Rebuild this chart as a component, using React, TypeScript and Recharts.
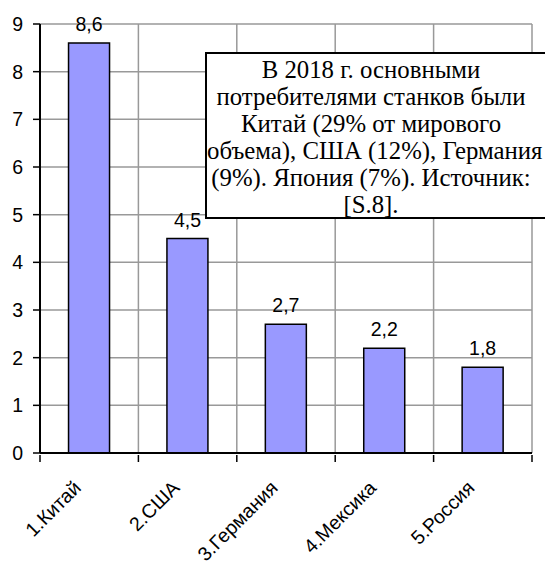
import React from 'react';
import { BarChart, Bar, XAxis, YAxis, CartesianGrid, LabelList } from 'recharts';

const categories = ['1.Китай', '2.США', '3.Германия', '4.Мексика', '5.Россия'];
const values = [8.6, 4.5, 2.7, 2.2, 1.8];
const yTicks = [0, 1, 2, 3, 4, 5, 6, 7, 8, 9];
const noteLines = [
  'В 2018 г. основными',
  'потребителями станков были',
  'Китай (29% от мирового',
  'объема), США (12%), Германия',
  '(9%). Япония (7%). Источник:',
  '[S.8].',
];

const W = 545;
const H = 565;
const margin = { top: 24, right: 13, left: 0, bottom: 0 };
const Y_W = 40;
const PLOT_W = W - Y_W - margin.right;
const FONT = 'Arial, "Liberation Sans", sans-serif';

const data = categories.map((name, i) => ({ name, value: values[i] }));

function XTick(props: any) {
  const { x, y, payload, index } = props;
  const step = PLOT_W / categories.length;
  const ax = x - 7;
  const ay = y + 34;
  return (
    <g>
      <line x1={x - step / 2} x2={x - step / 2} y1={y} y2={y + 7} stroke="#000" strokeWidth={1.5} />
      {index === categories.length - 1 && (
        <line x1={x + step / 2} x2={x + step / 2} y1={y} y2={y + 7} stroke="#000" strokeWidth={1.5} />
      )}
      <text
        x={ax}
        y={ay}
        textAnchor="end"
        transform={`rotate(-45 ${ax} ${ay})`}
        fontFamily={FONT}
        fontSize={19.5}
        fill="#000"
      >
        {payload.value}
      </text>
    </g>
  );
}

export default function App() {
  return (
    <div style={{ position: 'absolute', left: 0, top: 0, width: W, height: H, overflow: 'hidden', background: '#fff' }}>
      <BarChart width={W} height={H} data={data} margin={margin} barCategoryGap="29%">
        <CartesianGrid
          stroke="#999"
          strokeWidth={1.5}
          verticalCoordinatesGenerator={({ offset }: any) =>
            [1, 2, 3, 4, 5].map((i) => offset.left + (i * offset.width) / 5)
          }
        />
        <XAxis
          dataKey="name"
          interval={0}
          height={H - 453 - margin.bottom}
          tickSize={0}
          tickLine={false}
          axisLine={{ stroke: '#000', strokeWidth: 2 }}
          tick={<XTick />}
        />
        <YAxis
          width={Y_W}
          domain={[0, 9]}
          ticks={yTicks}
          interval={0}
          tickSize={7}
          tickMargin={10}
          tickLine={{ stroke: '#000', strokeWidth: 1.5 }}
          axisLine={{ stroke: '#000', strokeWidth: 2 }}
          tick={{ fontFamily: FONT, fontSize: 19.5, fill: '#000' }}
        />
        <Bar dataKey="value" fill="#9999ff" stroke="#000" strokeWidth={1.5} isAnimationActive={false}>
          <LabelList
            dataKey="value"
            position="top"
            offset={12}
            formatter={(v: any) => String(v).replace('.', ',')}
            style={{ fontFamily: FONT, fontSize: 19.5, fill: '#000' }}
          />
        </Bar>
      </BarChart>
      <div
        style={{
          position: 'absolute',
          left: 205,
          top: 52,
          width: 345,
          height: 167,
          boxSizing: 'border-box',
          border: '2px solid #000',
          background: '#fff',
          paddingRight: 13,
          paddingTop: 2,
          fontFamily: '"Times New Roman", "Liberation Serif", serif',
          fontSize: 24.8,
          lineHeight: '27px',
          textAlign: 'center',
          color: '#000',
        }}
      >
        {noteLines.map((l) => (
          <div key={l} style={{ whiteSpace: 'nowrap' }}>{l}</div>
        ))}
      </div>
    </div>
  );
}
